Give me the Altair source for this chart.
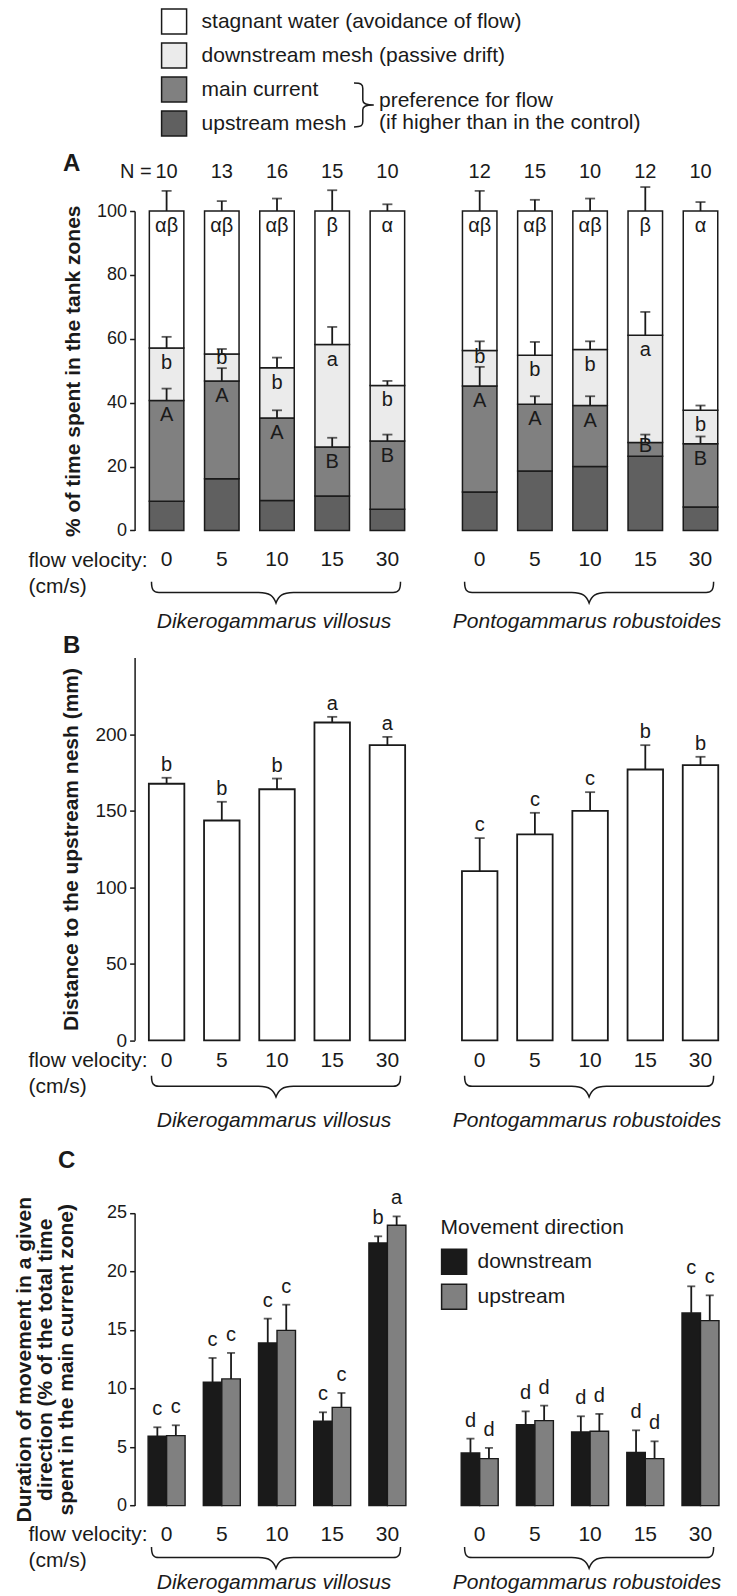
import altair as alt
import pandas as pd

FONT = "Liberation Sans"
INK = "#1a1a1a"

# ---------------- data ----------------
VELOCITIES = ["0", "5", "10", "15", "30"]
SPECIES = ["Dikerogammarus villosus", "Pontogammarus robustoides"]
DV, PR = SPECIES

ZONES = ["stagnant water (avoidance of flow)", "downstream mesh (passive drift)",
         "main current", "upstream mesh"]
ZONE_COLORS = ["#ffffff", "#ebebeb", "#808080", "#606060"]

N_ANIMALS = {DV: [10, 13, 16, 15, 10], PR: [12, 15, 10, 12, 10]}

# Panel A: % of time in each tank zone (mean), SE and letters
A_UPSTREAM = {DV: [9.1, 16.2, 9.4, 10.8, 6.6], PR: [12.0, 18.6, 20.0, 23.2, 7.3]}
A_MAIN = {DV: [31.6, 30.6, 25.8, 15.3, 21.4], PR: [33.2, 20.9, 19.1, 4.3, 19.8]}
A_DOWNSTREAM = {DV: [16.4, 8.4, 15.7, 32.1, 17.4], PR: [11.1, 15.3, 17.5, 33.6, 10.5]}
A_STAGNANT = {DV: [42.9, 44.8, 49.1, 41.8, 54.6], PR: [43.7, 45.2, 43.4, 38.9, 62.4]}
A_MAIN_SE = {DV: [3.7, 4.0, 2.4, 2.9, 2.0], PR: [6.0, 2.5, 2.9, 2.5, 2.3]}
A_DOWNSTREAM_SE = {DV: [3.5, 1.6, 3.2, 5.5, 1.4], PR: [2.9, 4.2, 2.6, 7.3, 1.5]}
A_STAGNANT_SE = {DV: [6.3, 3.1, 3.9, 6.5, 2.1], PR: [6.3, 3.5, 3.9, 7.5, 2.8]}
A_MAIN_LETTERS = {DV: ["A", "A", "A", "B", "B"], PR: ["A", "A", "A", "B", "B"]}
A_DOWNSTREAM_LETTERS = {DV: ["b", "b", "b", "a", "b"], PR: ["b", "b", "b", "a", "b"]}
A_STAGNANT_LETTERS = {DV: ["αβ", "αβ", "αβ", "β", "α"], PR: ["αβ", "αβ", "αβ", "β", "α"]}

# Panel B: distance to the upstream mesh (mm)
B_DIST = {DV: [167.6, 143.6, 164.0, 207.6, 192.8], PR: [110.5, 134.5, 149.9, 176.9, 179.7]}
B_SE = {DV: [3.9, 12.2, 7.0, 3.7, 5.4], PR: [21.6, 14.1, 12.2, 15.9, 5.5]}
B_LETTERS = {DV: ["b", "b", "b", "a", "a"], PR: ["c", "c", "c", "b", "b"]}

# Panel C: duration of movement in a given direction
DIRECTIONS = ["downstream", "upstream"]
DIRECTION_COLORS = ["#1a1a1a", "#808080"]
C_DOWN = {DV: [5.92, 10.53, 13.89, 7.20, 22.43], PR: [4.50, 6.92, 6.29, 4.55, 16.46]}
C_DOWN_SE = {DV: [0.77, 2.08, 2.08, 0.77, 0.57], PR: [1.22, 1.13, 1.34, 1.88, 2.27]}
C_UP = {DV: [5.98, 10.82, 14.97, 8.39, 23.94], PR: [4.01, 7.26, 6.35, 4.01, 15.80]}
C_UP_SE = {DV: [0.88, 2.22, 2.19, 1.23, 0.76], PR: [0.92, 1.28, 1.48, 1.48, 2.16]}
C_DOWN_LETTERS = {DV: ["c", "c", "c", "c", "b"], PR: ["d", "d", "d", "d", "c"]}
C_UP_LETTERS = {DV: ["c", "c", "c", "c", "a"], PR: ["d", "d", "d", "d", "c"]}

# ---------------- layout ----------------
W = 276
H_A = 319.4
H_B = 382.7
C_GAP = 45.7
H_C = 292.7 + C_GAP
PX_A = H_A / 100.0

BRACE_DOWN = ("M -1 -0.085 C -1 -0.02 -0.985 0 -0.94 0 L -0.14 0 C -0.05 0 -0.02 0.03 0 0.085 "
              "C 0.02 0.03 0.05 0 0.14 0 L 0.94 0 C 0.985 0 1 -0.02 1 -0.085")
BRACE_RIGHT = ("M -0.5 -1 C -0.15 -1 -0.1 -0.93 -0.1 -0.75 L -0.1 -0.22 C -0.1 -0.08 0 0 0.4 0 "
               "C 0 0 -0.1 0.08 -0.1 0.22 L -0.1 0.75 C -0.1 0.93 -0.15 1 -0.5 1")

ONE = pd.DataFrame({"k": [0]})

# ---------------- tables ----------------
seg_rows, err_rows, let_rows, n_rows = [], [], [], []
for sp in SPECIES:
    for i, v in enumerate(VELOCITIES):
        n_rows.append(dict(species=sp, velocity=v, n=str(N_ANIMALS[sp][i])))
        segs = [
            (ZONES[3], A_UPSTREAM[sp][i], None, None),
            (ZONES[2], A_MAIN[sp][i], A_MAIN_SE[sp][i], A_MAIN_LETTERS[sp][i]),
            (ZONES[1], A_DOWNSTREAM[sp][i], A_DOWNSTREAM_SE[sp][i], A_DOWNSTREAM_LETTERS[sp][i]),
            (ZONES[0], A_STAGNANT[sp][i], A_STAGNANT_SE[sp][i], A_STAGNANT_LETTERS[sp][i]),
        ]
        base = 0.0
        floor = 0.0
        for zone, val, se, let in segs:
            top = base + val
            seg_rows.append(dict(species=sp, velocity=v, zone=zone, y0=base, y1=top))
            if se is not None:
                err_rows.append(dict(species=sp, velocity=v, y1=top, errtop=top + se))
            if let is not None:
                ly = max(top - 15 / PX_A, floor + 10 / PX_A)
                let_rows.append(dict(species=sp, velocity=v, letter=let, label_y=ly))
            floor = top + se if se is not None else top
            base = top

A_SEG = pd.DataFrame(seg_rows)
A_ERR = pd.DataFrame(err_rows)
A_LET = pd.DataFrame(let_rows)
N_DF = pd.DataFrame(n_rows)

b_rows = []
for sp in SPECIES:
    for i, v in enumerate(VELOCITIES):
        b_rows.append(dict(species=sp, velocity=v, value=B_DIST[sp][i],
                           errtop=B_DIST[sp][i] + B_SE[sp][i], letter=B_LETTERS[sp][i]))
B_DF = pd.DataFrame(b_rows)

c_rows = []
for sp in SPECIES:
    for i, v in enumerate(VELOCITIES):
        c_rows.append(dict(species=sp, velocity=v, direction="downstream", value=C_DOWN[sp][i],
                           errtop=C_DOWN[sp][i] + C_DOWN_SE[sp][i], letter=C_DOWN_LETTERS[sp][i]))
        c_rows.append(dict(species=sp, velocity=v, direction="upstream", value=C_UP[sp][i],
                           errtop=C_UP[sp][i] + C_UP_SE[sp][i], letter=C_UP_LETTERS[sp][i]))
C_DF = pd.DataFrame(c_rows)


# ---------------- helpers ----------------
def note(text, x, y, size=21, weight="normal", style="normal", align="left", baseline="middle"):
    return alt.Chart(ONE).mark_text(
        text=text, font=FONT, fontSize=size, fontWeight=weight, fontStyle=style,
        align=align, baseline=baseline, color=INK,
    ).encode(x=alt.value(x), y=alt.value(y))


def brace(path, width_px, x, y):
    return alt.Chart(ONE).mark_point(
        shape=path, size=width_px ** 2, filled=False, color=INK, strokeWidth=1.5, opacity=1,
    ).encode(x=alt.value(x), y=alt.value(y))


def xenc(left, pad, title_y, inner):
    kw = dict(labelAngle=0, labelFontSize=21, labelFont=FONT, labelColor=INK, labelPadding=pad,
              ticks=False, tickSize=0, domain=False)
    if left:
        kw.update(title=["flow velocity:", "(cm/s)"], titleX=-111, titleY=title_y,
                  titleAlign="left", titleBaseline="top", titleAngle=0, titleFontSize=21,
                  titleFontWeight="normal", titleFont=FONT, titleColor=INK, titleLineHeight=26)
    else:
        kw.update(title=None)
    return alt.X("velocity:N", sort=VELOCITIES,
                 scale=alt.Scale(domain=VELOCITIES, paddingInner=inner, paddingOuter=inner / 2),
                 axis=alt.Axis(**kw))


def yenc(field, left, domain, values, title, label_size, title_size, title_pad,
         line_height=None, rng=None):
    if rng is None:
        sc = alt.Scale(domain=domain)
    else:
        sc = alt.Scale(domain=domain, range=rng)
    if left:
        kw = dict(title=title, values=values, grid=False, offset=4.4, tickSize=5, tickWidth=1.5,
                  tickColor=INK, domainColor=INK, domainWidth=1.5, labelFontSize=label_size,
                  labelFont=FONT, labelColor=INK, labelPadding=3, titleFontSize=title_size,
                  titleFontWeight="bold", titleFont=FONT, titleColor=INK, titlePadding=title_pad)
        if line_height is not None:
            kw["titleLineHeight"] = line_height
        return alt.Y(field, scale=sc, axis=alt.Axis(**kw))
    return alt.Y(field, scale=sc, axis=None)


# ---------------- panel A ----------------
def panel_a(sp, left):
    x = xenc(left, 18, 18.6, 0.375)

    def y(field):
        return yenc(field, left, [0, 100], [0, 20, 40, 60, 80, 100],
                    "% of time spent in the tank zones", 18, 21, 13)

    if left:
        legend = alt.Legend(orient="none", legendX=21.6, legendY=-203, title=None,
                            labelFontSize=21, labelFont=FONT, labelColor=INK, labelLimit=500,
                            symbolType="square", symbolSize=625, symbolStrokeColor=INK,
                            symbolStrokeWidth=1.5, rowPadding=3, labelOffset=14, padding=0)
    else:
        legend = None
    bars = alt.Chart(A_SEG[A_SEG.species == sp]).mark_bar(stroke=INK, strokeWidth=1.5).encode(
        x=x, y=y("y1:Q"), y2="y0:Q",
        fill=alt.Fill("zone:N", scale=alt.Scale(domain=ZONES, range=ZONE_COLORS), legend=legend),
    )
    e = A_ERR[A_ERR.species == sp]
    rules = alt.Chart(e).mark_rule(color=INK, strokeWidth=1.8).encode(x=x, y=y("y1:Q"), y2="errtop:Q")
    caps = alt.Chart(e).mark_tick(color=INK, thickness=1.8, size=10).encode(x=x, y=y("errtop:Q"))
    letters = alt.Chart(A_LET[A_LET.species == sp]).mark_text(
        font=FONT, fontSize=20, color=INK, baseline="middle").encode(
        x=x, y=y("label_y:Q"), text="letter:N")
    ns = alt.Chart(N_DF[N_DF.species == sp]).mark_text(
        font=FONT, fontSize=20, color=INK, baseline="middle").encode(
        x=x, y=alt.value(-39.3), text="n:N")
    layers = [bars, rules, caps, letters, ns,
              brace(BRACE_DOWN, 249, 137, H_A + 62),
              note(sp, 135, H_A + 92, style="italic", align="center")]
    if left:
        layers += [
            note("A", -67.4, -47.3, size=24, weight="bold", align="center"),
            note("N =", 12.6, -39.3, size=20, align="right"),
            brace(BRACE_RIGHT, 44, 226, -106),
            note("preference for flow", 240, -110),
            note("(if higher than in the control)", 240, -88),
        ]
    return alt.layer(*layers).properties(width=W, height=H_A)


# ---------------- panel B ----------------
def panel_b(sp, left):
    x = xenc(left, 9, 9.3, 0.357)

    def y(field):
        return yenc(field, left, [0, 250], [0, 50, 100, 150, 200],
                    "Distance to the upstream nesh (mm)", 19, 21, 13.5)

    d = B_DF[B_DF.species == sp]
    bars = alt.Chart(d).mark_bar(fill="white", stroke=INK, strokeWidth=1.8).encode(x=x, y=y("value:Q"))
    rules = alt.Chart(d).mark_rule(color=INK, strokeWidth=1.8).encode(x=x, y=y("value:Q"), y2="errtop:Q")
    caps = alt.Chart(d).mark_tick(color=INK, thickness=1.8, size=10).encode(x=x, y=y("errtop:Q"))
    letters = alt.Chart(d).mark_text(font=FONT, fontSize=20, color=INK, baseline="bottom", dy=-3).encode(
        x=x, y=y("errtop:Q"), text="letter:N")
    layers = [bars, rules, caps, letters,
              brace(BRACE_DOWN, 249, 137, H_B + 46),
              note(sp, 135, H_B + 81, style="italic", align="center")]
    if left:
        layers.append(note("B", -67.4, -11.6, size=24, weight="bold", align="center"))
    return alt.layer(*layers).properties(width=W, height=H_B)


# ---------------- panel C ----------------
def panel_c(sp, left):
    x = xenc(left, 18, 18.3, 0.33)
    xo = alt.XOffset("direction:N", sort=DIRECTIONS,
                     scale=alt.Scale(domain=DIRECTIONS, paddingInner=0, paddingOuter=0))

    def y(field):
        return yenc(field, left, [0, 25], [0, 5, 10, 15, 20, 25],
                    ["Duration of movement in a given", "direction (% of the total time",
                     "spent in the main current zone)"],
                    18, 21, 30, line_height=21, rng=[H_C, C_GAP])

    if left:
        legend = None
    else:
        legend = alt.Legend(orient="none", legendX=-11.5, legendY=50, title="Movement direction",
                            titleFontSize=21, titleFontWeight="normal", titleFont=FONT,
                            titleColor=INK, titlePadding=10, titleLimit=500,
                            labelFontSize=21, labelFont=FONT, labelColor=INK, labelLimit=500,
                            symbolType="square", symbolSize=625, symbolStrokeColor=INK,
                            symbolStrokeWidth=1.5, rowPadding=4, labelOffset=10, padding=0)
    d = C_DF[C_DF.species == sp]
    bars = alt.Chart(d).mark_bar(stroke=INK, strokeWidth=1.4).encode(
        x=x, xOffset=xo, y=y("value:Q"),
        fill=alt.Fill("direction:N", scale=alt.Scale(domain=DIRECTIONS, range=DIRECTION_COLORS),
                      legend=legend),
    )
    rules = alt.Chart(d).mark_rule(color=INK, strokeWidth=1.8).encode(
        x=x, xOffset=xo, y=y("value:Q"), y2="errtop:Q")
    caps = alt.Chart(d).mark_tick(color=INK, thickness=1.8, size=8).encode(
        x=x, xOffset=xo, y=y("errtop:Q"))
    letters = alt.Chart(d).mark_text(font=FONT, fontSize=20, color=INK, baseline="bottom", dy=-8).encode(
        x=x, xOffset=xo, y=y("errtop:Q"), text="letter:N")
    layers = [bars, rules, caps, letters,
              brace(BRACE_DOWN, 249, 137, H_C + 52),
              note(sp, 135, H_C + 77, style="italic", align="center")]
    if left:
        layers.append(note("C", -72.4, -5.9, size=24, weight="bold", align="center"))
    return alt.layer(*layers).properties(width=W, height=H_C)


chart = alt.concat(
    panel_a(DV, True), panel_a(PR, False),
    panel_b(DV, True), panel_b(PR, False),
    panel_c(DV, True), panel_c(PR, False),
    columns=2, spacing={"row": 126.6, "column": 37.1}, bounds="flush",
).resolve_scale(
    x="independent", y="independent", fill="independent",
).properties(
    padding={"left": 5, "top": 0, "right": 0, "bottom": 0},
).configure(font=FONT).configure_view(stroke=None)

chart.save("out.html", embed_options={"renderer": "svg", "actions": False})
